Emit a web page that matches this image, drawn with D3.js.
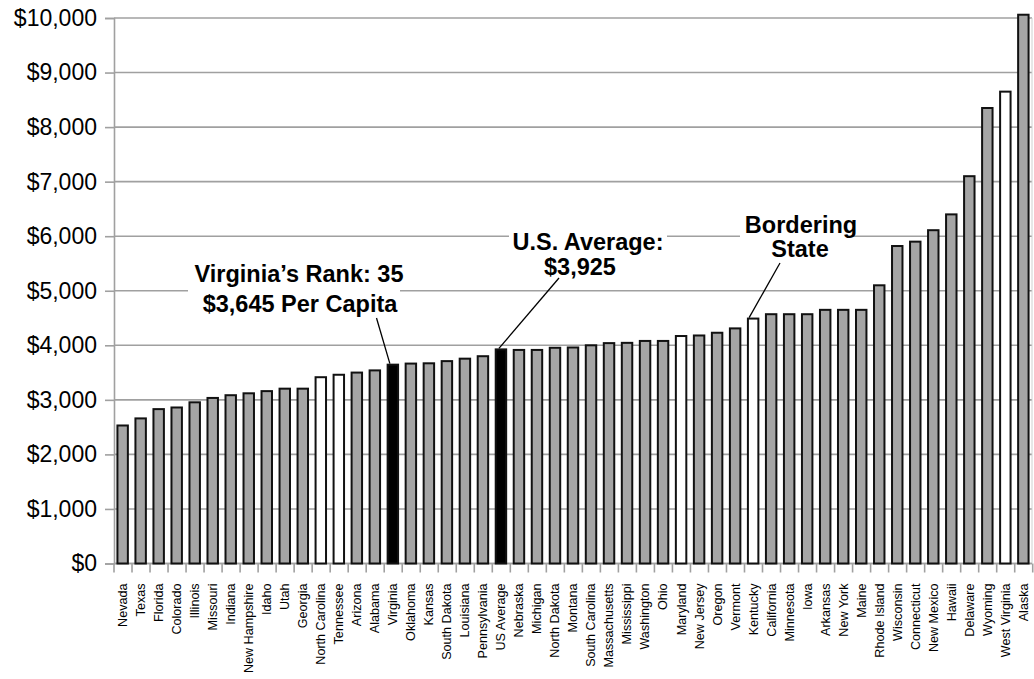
<!DOCTYPE html>
<html>
<head>
<meta charset="utf-8">
<script src="https://cdn.jsdelivr.net/npm/d3@7"></script>
<style>
  html, body { margin: 0; padding: 0; background: #fff; }
  svg { display: block; font-family: Arial, "Liberation Sans", sans-serif; }
</style>
</head>
<body>
<svg id="chart" width="1034" height="679"></svg>
<script>
// Per-capita spending by state, sorted ascending
const states = [
  "Nevada", "Texas", "Florida", "Colorado", "Illinois", "Missouri", "Indiana",
  "New Hampshire", "Idaho", "Utah", "Georgia", "North Carolina", "Tennessee",
  "Arizona", "Alabama", "Virginia", "Oklahoma", "Kansas", "South Dakota",
  "Louisiana", "Pennsylvania", "US Average", "Nebraska", "Michigan",
  "North Dakota", "Montana", "South Carolina", "Massachusetts", "Mississippi",
  "Washington", "Ohio", "Maryland", "New Jersey", "Oregon", "Vermont",
  "Kentucky", "California", "Minnesota", "Iowa", "Arkansas", "New York",
  "Maine", "Rhode Island", "Wisconsin", "Connecticut", "New Mexico", "Hawaii",
  "Delaware", "Wyoming", "West Virginia", "Alaska"
];
const perCapita = [
  2530, 2660, 2830, 2860, 2955, 3035, 3085,
  3120, 3160, 3205, 3205, 3415, 3460,
  3500, 3540, 3645, 3665, 3670, 3710,
  3755, 3800, 3925, 3915, 3915,
  3955, 3960, 4000, 4040, 4045,
  4080, 4080, 4170, 4180, 4230, 4310,
  4490, 4570, 4570, 4570, 4650, 4650,
  4650, 5100, 5820, 5900, 6110, 6400,
  7100, 8350, 8650, 10060
];
const highlighted = ["Virginia", "US Average"];
const borderingStates = ["North Carolina", "Tennessee", "Maryland", "Kentucky", "West Virginia"];
const yTicks = [0, 1000, 2000, 3000, 4000, 5000, 6000, 7000, 8000, 9000, 10000];

const data = states.map((s, i) => ({ state: s, value: perCapita[i] }));

const svg = d3.select("#chart");
const x0 = 114, x1 = 1032, yTop = 18, yBase = 563.5;

const x = d3.scaleBand().domain(states).range([x0, x1]).paddingInner(0.42).paddingOuter(0.19);
const y = d3.scaleLinear().domain([0, 10000]).range([yBase, yTop]);
const step = x.step();

const gridColor = "#a0a0a0";

// Horizontal gridlines
svg.append("g")
  .selectAll("line")
  .data(yTicks)
  .join("line")
  .attr("x1", x0).attr("x2", x1)
  .attr("y1", d => y(d)).attr("y2", d => y(d))
  .attr("stroke", gridColor).attr("stroke-width", 1.6);

// Right edge of the plot area
svg.append("line")
  .attr("x1", x1).attr("x2", x1).attr("y1", y(10000)).attr("y2", yBase)
  .attr("stroke", "#d0d0d0").attr("stroke-width", 1);

// Y axis
const yAxis = d3.axisLeft(y)
  .tickValues(yTicks)
  .tickSize(9)
  .tickPadding(8)
  .tickFormat(d => "$" + d3.format(",")(d));
const gy = svg.append("g").attr("transform", `translate(${x0},0)`).call(yAxis);
gy.select(".domain").attr("stroke", gridColor).attr("stroke-width", 1.6);
gy.selectAll(".tick line").attr("stroke", gridColor).attr("stroke-width", 1.6);
gy.selectAll(".tick text")
  .attr("fill", "#000")
  .style("font-size", "23px")
  .style("font-family", "Arial, 'Liberation Sans', sans-serif");

// X axis: tick marks at category boundaries
const bounds = d3.range(states.length + 1).map(i => x0 + i * step);
svg.append("g")
  .selectAll("line")
  .data(bounds)
  .join("line")
  .attr("x1", d => d).attr("x2", d => d)
  .attr("y1", yBase).attr("y2", yBase + 9)
  .attr("stroke", gridColor).attr("stroke-width", 1.6);
svg.append("line")
  .attr("x1", x0).attr("x2", x1).attr("y1", yBase).attr("y2", yBase)
  .attr("stroke", gridColor).attr("stroke-width", 1.6);

// Category labels, rotated
svg.append("g")
  .selectAll("text")
  .data(states)
  .join("text")
  .attr("transform", d => `translate(${x(d) + x.bandwidth() / 2},${yBase + 20}) rotate(-90)`)
  .attr("text-anchor", "end")
  .attr("dy", "0.35em")
  .style("font-size", "12.6px")
  .text(d => d);

// Bars
const sw = 2;
svg.append("g")
  .selectAll("rect")
  .data(data)
  .join("rect")
  .attr("x", d => x(d.state))
  .attr("width", x.bandwidth())
  .attr("y", d => y(d.value))
  .attr("height", d => yBase - y(d.value))
  .attr("fill", d => highlighted.includes(d.state) ? "#000"
    : borderingStates.includes(d.state) ? "#fff" : "#a5a5a5")
  .attr("stroke", "#111")
  .attr("stroke-width", sw);

// Annotations
function annotate(lines, box, target, from) {
  const g = svg.append("g");
  g.append("rect")
    .attr("x", box[0]).attr("y", box[1]).attr("width", box[2]).attr("height", box[3])
    .attr("fill", "#fff");
  lines.forEach(l => {
    g.append("text")
      .attr("x", l.x).attr("y", l.y)
      .attr("text-anchor", "middle")
      .style("font-size", "23.5px")
      .style("font-weight", "bold")
      .text(l.t);
  });
  const tx = x(target.state) + x.bandwidth() / 2 + target.dx;
  g.append("line")
    .attr("x1", from[0]).attr("y1", from[1])
    .attr("x2", tx).attr("y2", y(target.value) - 1)
    .attr("stroke", "#000").attr("stroke-width", 1.3);
}

const vaIdx = states.indexOf("Virginia");
const usIdx = states.indexOf("US Average");
const kyIdx = states.indexOf("Kentucky");

annotate(
  [{ t: "Virginia\u2019s Rank: 35", x: 299, y: 282 },
   { t: "$3,645 Per Capita", x: 300, y: 312 }],
  [188, 260, 212, 58],
  { state: "Virginia", value: perCapita[vaIdx], dx: -3 },
  [376.5, 318]
);
annotate(
  [{ t: "U.S. Average:", x: 588, y: 250 },
   { t: "$3,925", x: 580, y: 275 }],
  [509, 228, 158, 52],
  { state: "US Average", value: perCapita[usIdx], dx: -2 },
  [559, 278]
);
annotate(
  [{ t: "Bordering", x: 801, y: 233 },
   { t: "State", x: 800, y: 257 }],
  [740, 208, 112, 52],
  { state: "Kentucky", value: perCapita[kyIdx], dx: -4 },
  [780, 263]
);
</script>
</body>
</html>
